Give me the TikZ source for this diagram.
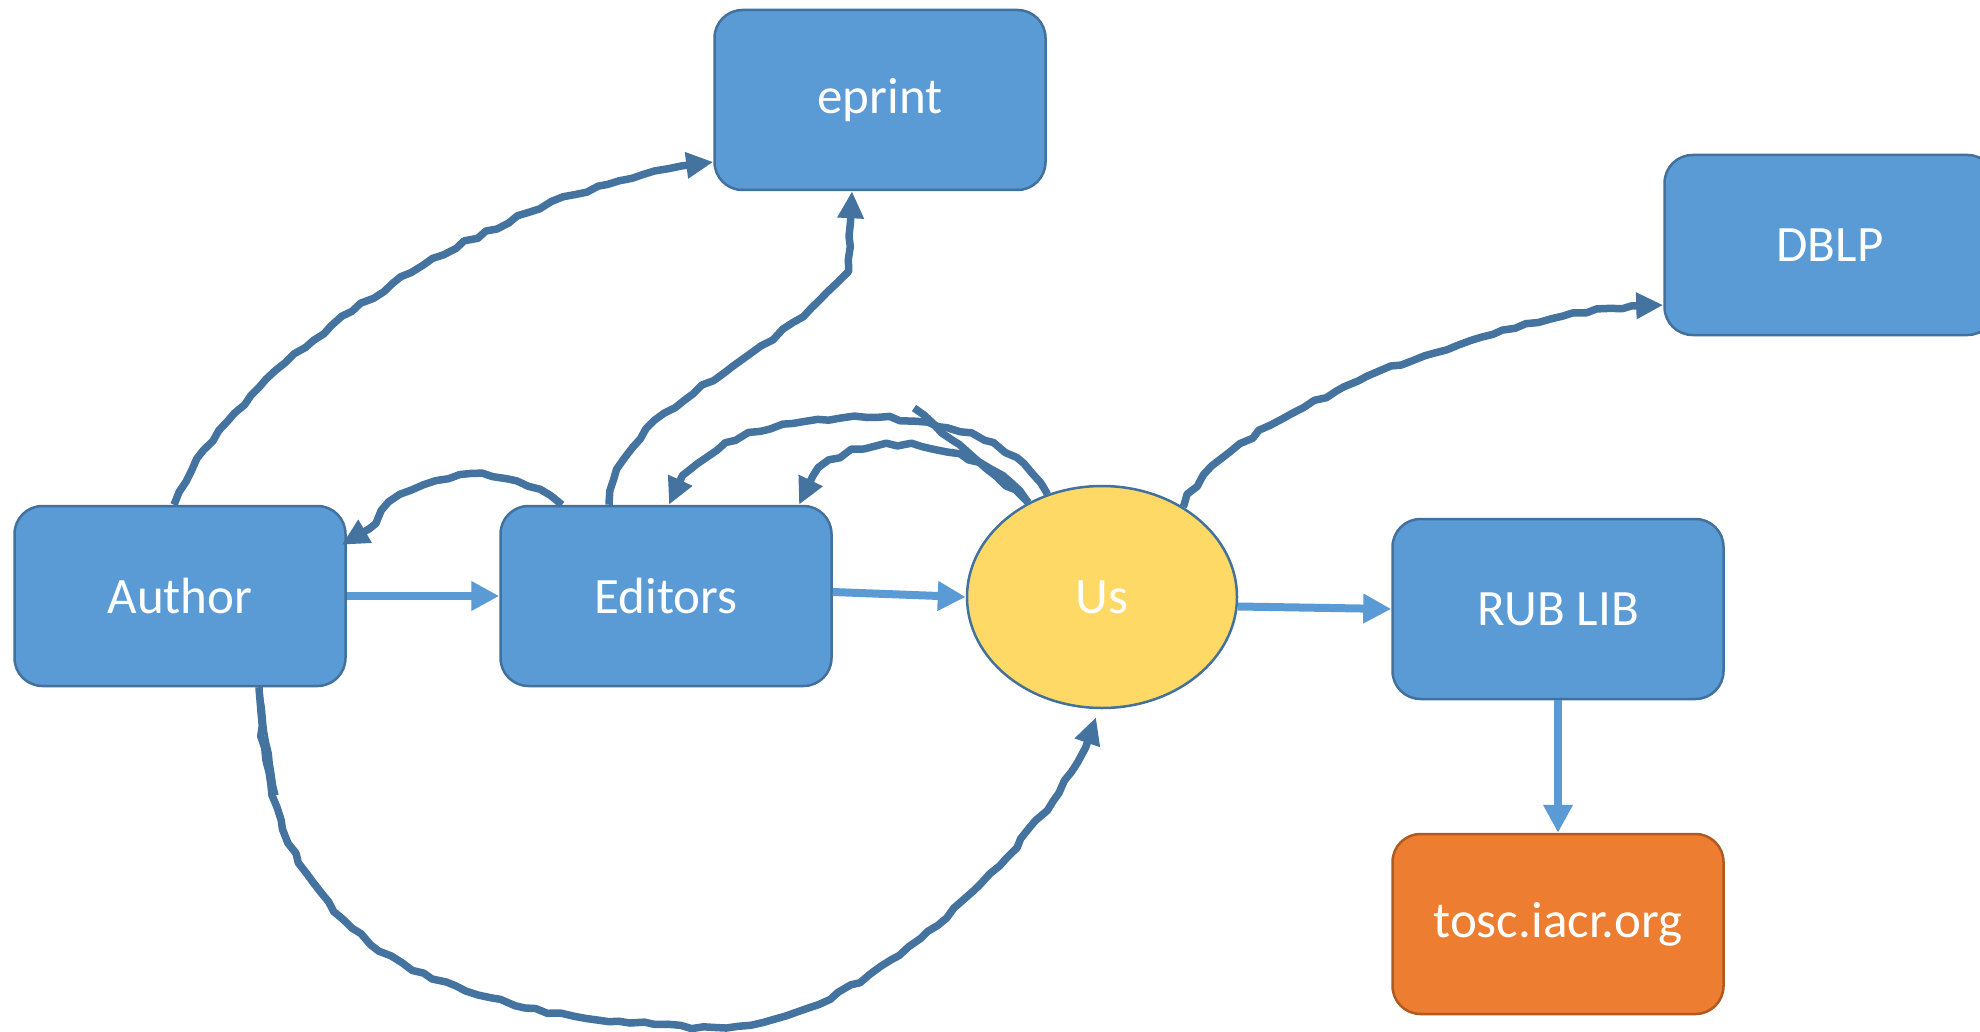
\documentclass[tikz,border=0pt]{standalone}
\usepackage{fontspec}
\setmainfont{Carlito}
\usetikzlibrary{shapes.geometric,arrows.meta,decorations.pathmorphing}
\definecolor{boxblue}{HTML}{5B9BD5}
\definecolor{edgeblue}{HTML}{41719C}
\definecolor{wavy}{HTML}{44739F}
\definecolor{boxorange}{HTML}{ED7D31}
\definecolor{edgeorange}{HTML}{AE5A21}
\definecolor{usyellow}{HTML}{FFD966}
\begin{document}
\begin{tikzpicture}[x=1pt,y=-1pt,
  box/.style={rectangle, rounded corners=28pt, minimum width=331pt, minimum height=180pt,
    fill=boxblue, draw=edgeblue, line width=2.5pt, text=white,
    font=\fontsize{51}{60}\selectfont, inner sep=0pt},
  obox/.style={box, fill=boxorange, draw=edgeorange},
  usnode/.style={ellipse, minimum width=270pt, minimum height=222pt, fill=usyellow,
    draw=edgeblue, line width=2.5pt, text=white, font=\fontsize{51}{60}\selectfont, inner sep=0pt},
  flow/.style={draw=boxblue, line width=8pt, -{Triangle[length=28pt,width=28pt]}},
  sketch/.style={draw=wavy, line width=7.5pt, line join=round, decorate,
    decoration={random steps, segment length=12pt, amplitude=2pt, pre length=2pt, post length=32pt},
    -{Triangle[length=27pt,width=25pt]}},
  sketchline/.style={draw=wavy, line width=7.5pt, line join=round, decorate,
    decoration={random steps, segment length=12pt, amplitude=2pt}},
  thinsketch/.style={draw=wavy, line width=3.5pt, line join=round, decorate,
    decoration={random steps, segment length=11pt, amplitude=1pt}},
]
\pgfmathsetseed{7}
\useasboundingbox[fill=white] (0,0) rectangle (1980,1032);

\node[box] (eprint) at (880,100) {eprint};
\node[box] (dblp) at (1830,245) {DBLP};
\node[box] (author) at (180,596) {Author};
\node[box] (editors) at (666,596) {Editors};
\node[usnode] (us) at (1102,597) {Us};
\node[box] (rub) at (1558,609) {RUB LIB};
\node[obox] (tosc) at (1558,924) {tosc.iacr.org};

% straight flows
\draw[flow] (author.east) -- (editors.west);
\draw[flow] ([yshift=4pt]editors.east) -- (us.west);
\draw[flow] (us.-4) -- (rub.west);
\draw[flow] (rub.south) -- (tosc.north);

% sketchy connectors
\draw[sketch] ([xshift=-6pt]author.north) .. controls (240,350) and (520,180) .. ([yshift=-62pt]eprint.west);
\draw[sketch] ([xshift=-57pt]editors.north) .. controls (609,410) and (780,360) .. (848,271) -- ([xshift=-28pt]eprint.south);
\draw[sketch] ([xshift=-104pt]editors.north) .. controls (520,470) and (450,465) .. (400,495) .. controls (380,507) and (375,535) .. ([xshift=-5pt,yshift=-40pt]author.north east);
\draw[sketch] (us.118) .. controls (1000,390) and (700,390) .. ([xshift=3pt]editors.north);
\draw[sketch] (us.128) .. controls (975,430) and (820,420) .. ([xshift=133pt]editors.north);
\coordinate (s1) at (914,408);
\draw[sketchline] (s1) -- (us.128);
\draw[sketch] (us.48) .. controls (1230,400) and (1560,300) .. ([yshift=-60pt]dblp.west);
\draw[sketch] ([xshift=79pt]author.south) .. controls (265,940) and (420,1020) .. (726,1028) .. controls (880,1022) and (1080,800) .. ([xshift=-6pt,yshift=-8pt]us.south);
\coordinate (t1) at (277,795);
\draw[thinsketch] ([xshift=79pt]author.south) -- (t1);
\end{tikzpicture}
\end{document}
